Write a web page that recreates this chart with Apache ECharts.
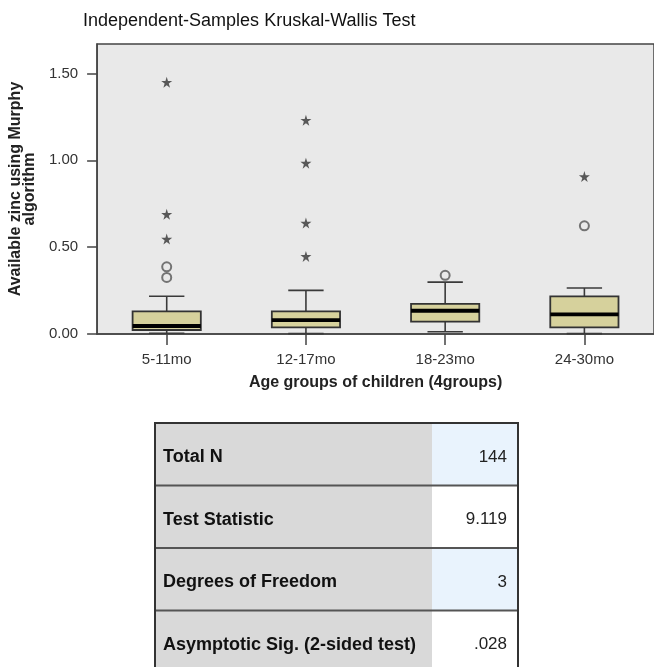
<!DOCTYPE html>
<html><head><meta charset="utf-8">
<script src="https://cdn.jsdelivr.net/npm/echarts@6/dist/echarts.min.js"></script>
<style>html,body{margin:0;padding:0;background:#fff}#c{width:654px;height:667px}</style>
</head><body><div id="c"></div>
<script>
const titleText = 'Independent-Samples Kruskal-Wallis Test';
const categories = ['5-11mo', '12-17mo', '18-23mo', '24-30mo'];
const whiskerLow = [0.004, 0.002, 0.013, 0.002];
const q1 = [0.023, 0.038, 0.071, 0.038];
const medians = [0.046, 0.080, 0.134, 0.113];
const q3 = [0.130, 0.130, 0.173, 0.217];
const whiskerHigh = [0.217, 0.251, 0.299, 0.265];
const circleCats = [0, 0, 2, 3];
const circleVals = [0.387, 0.326, 0.338, 0.623];
const starCats = [0, 0, 0, 1, 1, 1, 1, 3];
const starVals = [0.547, 0.689, 1.45, 0.447, 0.639, 0.984, 1.231, 0.907];
const yTicks = [0, 0.5, 1.0, 1.5];
const yAxisTitle = 'Available zinc using Murphy\nalgorithm';
const xAxisTitle = 'Age groups of children (4groups)';
const tableLabels = ['Total N', 'Test Statistic', 'Degrees of Freedom', 'Asymptotic Sig. (2-sided test)'];
const tableValues = ['144', '9.119', '3', '.028'];

const FONT = "'Liberation Sans', Arial, sans-serif";
const boxData = categories.map((c, i) => [i, whiskerLow[i], q1[i], medians[i], q3[i], whiskerHigh[i]]);
const circleData = circleCats.map((c, i) => [c, circleVals[i]]);
const starData = starCats.map((c, i) => [c, starVals[i]]);
const STAR = 'path://M50,0 L61,35 L98,35 L68,57 L79,91 L50,70 L21,91 L32,57 L2,35 L39,35 Z';

function renderBox(params, api) {
  const i = api.value(0);
  const pLow = api.coord([i, api.value(1)]);
  const pQ1 = api.coord([i, api.value(2)]);
  const pMed = api.coord([i, api.value(3)]);
  const pQ3 = api.coord([i, api.value(4)]);
  const pHigh = api.coord([i, api.value(5)]);
  const band = api.size([1, 0])[0];
  const x = pMed[0];
  const hb = band * 0.245, hc = band * 0.127;
  const ls = {stroke: '#3a3a3a', lineWidth: 1.6};
  return {type: 'group', children: [
    {type: 'line', shape: {x1: x, y1: pLow[1], x2: x, y2: pQ1[1]}, style: ls},
    {type: 'line', shape: {x1: x, y1: pQ3[1], x2: x, y2: pHigh[1]}, style: ls},
    {type: 'line', shape: {x1: x - hc, y1: pLow[1], x2: x + hc, y2: pLow[1]}, style: ls},
    {type: 'line', shape: {x1: x - hc, y1: pHigh[1], x2: x + hc, y2: pHigh[1]}, style: ls},
    {type: 'rect', shape: {x: x - hb, y: pQ3[1], width: 2 * hb, height: pQ1[1] - pQ3[1]},
      style: {fill: '#d6d19c', stroke: '#333', lineWidth: 1.8}},
    {type: 'line', shape: {x1: x - hb, y1: pMed[1], x2: x + hb, y2: pMed[1]},
      style: {stroke: '#000', lineWidth: 3.8}}
  ]};
}

// table graphics
const TBL = {x: 155, y: 423, w: 363, colX: 432, rowH: 62.5};
const rightFills = ['#e9f3fd', '#ffffff', '#e9f3fd', '#ffffff'];
const graphics = [];
tableLabels.forEach((lab, i) => {
  const top = TBL.y + i * TBL.rowH;
  graphics.push({type: 'rect', shape: {x: TBL.x, y: top, width: TBL.colX - TBL.x, height: TBL.rowH},
    style: {fill: '#d9d9d9'}, silent: true});
  graphics.push({type: 'rect', shape: {x: TBL.colX, y: top, width: TBL.x + TBL.w - TBL.colX, height: TBL.rowH},
    style: {fill: rightFills[i]}, silent: true});
  graphics.push({type: 'text', x: TBL.x + 8, y: top + TBL.rowH / 2 + 3,
    style: {text: lab, fontSize: 18, fontWeight: 'bold', fontFamily: FONT, fill: '#111',
      textAlign: 'left', textVerticalAlign: 'middle'}});
  graphics.push({type: 'text', x: TBL.x + TBL.w - 11, y: top + TBL.rowH / 2 + 3,
    style: {text: tableValues[i], fontSize: 17, fontFamily: FONT, fill: '#222',
      textAlign: 'right', textVerticalAlign: 'middle'}});
  if (i > 0) {
    graphics.push({type: 'line', shape: {x1: TBL.x, y1: top, x2: TBL.x + TBL.w, y2: top},
      style: {stroke: '#555', lineWidth: 2}});
  }
});
graphics.push({type: 'rect', shape: {x: TBL.x, y: TBL.y, width: TBL.w, height: TBL.rowH * 4},
  style: {fill: 'none', stroke: '#333', lineWidth: 2}});

const chart = echarts.init(document.getElementById('c'), null, {renderer: 'canvas'});
chart.setOption({
  backgroundColor: '#ffffff',
  animation: false,
  title: {text: titleText, left: 78, top: 7,
    textStyle: {fontSize: 18, fontWeight: 'normal', color: '#111', fontFamily: FONT}},
  grid: {left: 96, top: 44, width: 568, height: 290, show: true,
    backgroundColor: '#e9e9e9', borderColor: '#444', borderWidth: 1.5},
  xAxis: {type: 'category', data: categories, boundaryGap: true,
    axisLine: {show: true, lineStyle: {color: '#444', width: 1.5}},
    axisTick: {show: true, alignWithLabel: true, length: 11, lineStyle: {color: '#444', width: 1.5}},
    axisLabel: {fontSize: 15, color: '#333', margin: 18, fontFamily: FONT},
    splitLine: {show: false},
    name: xAxisTitle, nameLocation: 'middle', nameGap: 41,
    nameTextStyle: {fontSize: 16, fontWeight: 'bold', color: '#222', fontFamily: FONT}},
  yAxis: {type: 'value', min: 0, max: 1.67, interval: 0.5,
    axisLine: {show: true, lineStyle: {color: '#444', width: 1.5}},
    axisTick: {show: true, length: 10, customValues: yTicks, lineStyle: {color: '#444', width: 1.5}},
    axisLabel: {customValues: yTicks, formatter: v => v.toFixed(2), fontSize: 15, color: '#333',
      margin: 19, fontFamily: FONT},
    splitLine: {show: false},
    name: yAxisTitle, nameLocation: 'middle', nameRotate: 90, nameGap: 58,
    nameTextStyle: {fontSize: 16, fontWeight: 'bold', lineHeight: 14, color: '#222', fontFamily: FONT}},
  series: [
    {type: 'custom', renderItem: renderBox, data: boxData, encode: {x: 0, y: [1, 2, 3, 4, 5]}, z: 3},
    {type: 'scatter', data: circleData, symbol: 'circle', symbolSize: 9, z: 4,
      itemStyle: {color: 'rgba(0,0,0,0)', borderColor: '#555', borderWidth: 2}},
    {type: 'scatter', data: starData, symbol: STAR, symbolSize: 11, z: 4,
      itemStyle: {color: '#333'}}
  ],
  graphic: graphics
});
</script>
</body></html>
